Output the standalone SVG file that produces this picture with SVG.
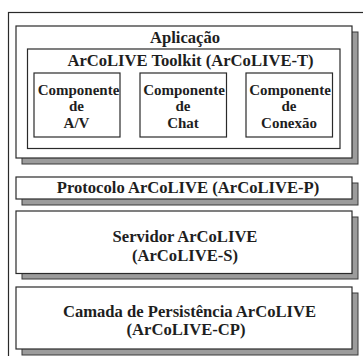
<svg xmlns="http://www.w3.org/2000/svg" width="363" height="356" viewBox="0 0 363 356">
<style>
.box{fill:#fff;stroke:#2a2a2a;stroke-width:1.2}
.shadow{fill:#9c9c9c;stroke:#3a3a3a;stroke-width:1}
.t{font-family:"Liberation Serif","Times New Roman",serif;font-weight:bold;font-size:16.6px;fill:#1e1e1e;text-anchor:middle}
.s{font-size:15px}
</style>
<rect width="363" height="356" fill="#fff"/>
<g id="frame"><rect x="8.5" y="12.5" width="370" height="360" fill="none" stroke="#2a2a2a" stroke-width="1.2"/></g>
<g id="aplicacao">
<rect class="shadow" x="22" y="32" width="336" height="132"/>
<rect class="box" x="16" y="26" width="336" height="132"/>
<text class="t" x="185" y="43">Aplicação</text>
</g>
<g id="toolkit">
<rect class="box" x="27.5" y="49" width="312.5" height="99.5"/>
<text class="t" x="190.5" y="65.5">ArCoLIVE Toolkit (ArCoLIVE-T)</text>
</g>
<g id="comp-av">
<rect class="box" x="34" y="73" width="86" height="64"/>
<text class="t s"><tspan x="78.5" y="95">Componente</tspan><tspan x="76.5" y="111">de</tspan><tspan x="76.5" y="127.5">A/V</tspan></text>
</g>
<g id="comp-chat">
<rect class="box" x="140" y="73" width="86.5" height="64"/>
<text class="t s"><tspan x="184" y="95">Componente</tspan><tspan x="183" y="111">de</tspan><tspan x="183" y="127.5">Chat</tspan></text>
</g>
<g id="comp-conexao">
<rect class="box" x="246" y="73" width="86.5" height="64"/>
<text class="t s"><tspan x="290" y="95">Componente</tspan><tspan x="289" y="111">de</tspan><tspan x="289" y="127.5">Conexão</tspan></text>
</g>
<g id="protocolo">
<rect class="shadow" x="22" y="183" width="336" height="22"/>
<rect class="box" x="16" y="177" width="336" height="22"/>
<text class="t" x="188" y="193">Protocolo ArCoLIVE (ArCoLIVE-P)</text>
</g>
<g id="servidor">
<rect class="shadow" x="22" y="217" width="336" height="62"/>
<rect class="box" x="16" y="211" width="336" height="62.5"/>
<text class="t"><tspan x="185" y="242.3">Servidor ArCoLIVE</tspan><tspan x="185" y="260.5">(ArCoLIVE-S)</tspan></text>
</g>
<g id="persistencia">
<rect class="shadow" x="22" y="293" width="336" height="62"/>
<rect class="box" x="16" y="287" width="336" height="62"/>
<text class="t"><tspan x="189.5" y="317">Camada de Persistência ArCoLIVE</tspan><tspan x="186" y="335">(ArCoLIVE-CP)</tspan></text>
</g>
</svg>
